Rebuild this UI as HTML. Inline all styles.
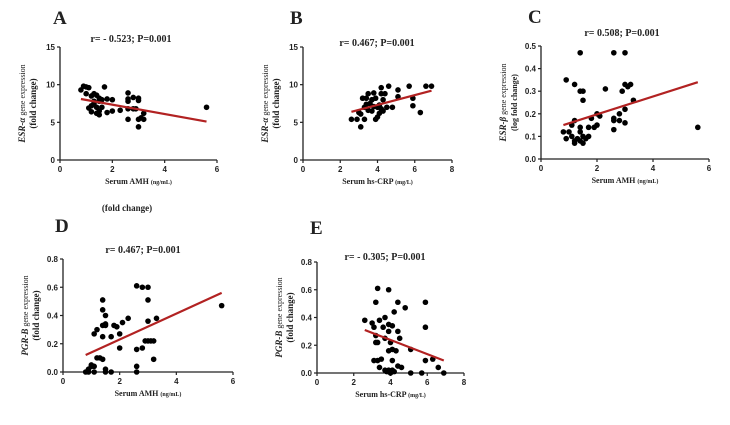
<!DOCTYPE html>
<html><head><meta charset="utf-8"><style>
html,body{margin:0;padding:0;background:#fff;width:730px;height:425px;overflow:hidden}
svg{display:block}
.t{font-family:"Liberation Serif",serif;font-weight:bold;fill:#222}
.tk{font-family:"Liberation Sans",sans-serif;font-weight:bold;font-size:8px;fill:#222}
</style></head><body>
<svg id="fig" width="730" height="425" viewBox="0 0 730 425"></svg>
<script>
const aX=[0.8,0.9,1.0,1.1,1.0,1.2,1.3,1.4,1.5,1.7,1.6,1.8,2.0,1.1,1.2,1.3,1.4,1.5,1.2,1.4,1.5,1.6,1.8,2.0,2.3,1.3,1.5,2.6,2.6,2.6,2.8,3.0,3.0,2.6,2.8,2.9,2.6,3.0,3.1,3.2,3.2,3.0,5.6];
const aY=[9.3,9.8,9.7,9.6,8.8,8.5,8.8,8.6,8.2,9.7,8.0,8.1,8.0,6.9,7.2,7.5,7.0,6.5,6.4,6.2,6.0,7.0,6.3,6.5,6.6,7.8,7.8,8.9,8.1,7.8,8.3,8.2,7.9,6.8,6.8,6.8,5.4,5.4,5.6,5.4,6.2,4.4,7.0];
const aLine=[[0.8,8.1],[5.6,5.1]];
const bX=[2.6,2.9,3.0,3.1,3.1,3.2,3.3,3.3,3.4,3.4,3.5,3.5,3.7,3.7,3.8,3.8,3.9,3.9,4.0,4.0,4.1,4.2,4.2,4.2,4.3,4.3,4.4,4.5,4.6,4.8,5.1,5.1,5.7,5.9,5.9,6.3,6.6,6.9,3.6,4.1];
const bY=[5.4,5.4,6.3,6.1,4.4,8.2,5.4,7.0,7.4,8.2,8.8,6.6,6.5,8.0,8.9,7.1,8.2,5.4,5.7,7.0,6.2,9.6,8.8,6.8,6.5,8.0,8.8,7.0,9.8,7.0,9.3,8.4,9.8,8.2,7.2,6.3,9.8,9.8,7.5,7.3];
const bLine=[[2.6,6.4],[6.9,9.2]];
const cX=[0.8,0.9,0.9,1.0,1.1,1.1,1.2,1.2,1.2,1.2,1.3,1.4,1.4,1.4,1.4,1.4,1.5,1.5,1.5,1.5,1.6,1.7,1.7,1.8,1.9,2.0,2.0,2.1,2.3,2.6,2.6,2.6,2.6,2.8,2.8,2.9,3.0,3.0,3.0,3.0,3.1,3.2,3.3,5.6];
const cY=[0.12,0.35,0.09,0.12,0.10,0.15,0.08,0.33,0.17,0.07,0.09,0.47,0.30,0.14,0.12,0.08,0.30,0.26,0.10,0.07,0.09,0.14,0.10,0.18,0.14,0.20,0.15,0.19,0.31,0.47,0.18,0.17,0.13,0.20,0.17,0.30,0.47,0.33,0.22,0.16,0.32,0.33,0.26,0.14];
const cLine=[[0.8,0.15],[5.6,0.34]];
const dX=[0.8,0.9,0.9,1.0,1.0,1.1,1.1,1.1,1.2,1.2,1.3,1.4,1.4,1.4,1.4,1.4,1.5,1.5,1.5,1.5,1.5,1.7,1.7,1.8,1.9,2.0,2.0,2.1,2.3,2.6,2.6,2.6,2.6,2.8,2.8,2.9,3.0,3.0,3.0,3.0,3.1,3.2,3.2,3.3,5.6];
const dY=[0,0,0.02,0.04,0.05,0.04,0,0.27,0.30,0.10,0.10,0.09,0.51,0.44,0.33,0.25,0.40,0.34,0.33,0.02,0,0.25,0,0.33,0.32,0.27,0.17,0.35,0.38,0.61,0.16,0.04,0,0.60,0.17,0.22,0.60,0.51,0.36,0.22,0.22,0.22,0.09,0.38,0.47];
const dLine=[[0.8,0.12],[5.6,0.56]];
const eX=[2.6,3.0,3.1,3.2,3.2,3.2,3.1,3.3,3.3,3.3,3.4,3.4,3.5,3.6,3.7,3.7,3.7,3.8,3.9,3.9,3.9,3.9,3.9,4.0,4.0,4.1,4.1,4.1,4.1,4.2,4.2,4.3,4.4,4.4,4.4,4.5,4.6,4.8,5.1,5.1,5.7,5.9,5.9,5.9,6.3,6.6,6.9];
const eY=[0.38,0.36,0.33,0.51,0.27,0.22,0.09,0.61,0.09,0.22,0.38,0.04,0.10,0.33,0.40,0.25,0.02,0.01,0.60,0.35,0.30,0.16,0.02,0.22,0,0.34,0.09,0.17,0.02,0.44,0.01,0.16,0.51,0.30,0.05,0.25,0.04,0.47,0.17,0,0,0.51,0.33,0.09,0.10,0.04,0];
const eLine=[[2.6,0.31],[6.9,0.09]];
const ticksA=["0","5","10","15"], ticksC=["0.0","0.1","0.2","0.3","0.4","0.5"], ticksD=["0.0","0.2","0.4","0.6","0.8"];
const xt6=["0","2","4","6"], xt8=["0","2","4","6","8"];

const NS="http://www.w3.org/2000/svg", svg=document.getElementById('fig');
function mk(tag,at,parent,txt){const e=document.createElementNS(NS,tag);for(const k in at)e.setAttribute(k,at[k]);if(txt!=null)e.textContent=txt;(parent||svg).appendChild(e);return e;}
function panel(p){
  const g=mk('g',{});
  
  
  const sx=v=>p.x0+(v-0)/(p.xmax)*(p.x1-p.x0);
  const sy=v=>p.y0-(v)/(p.ymax)*(p.y0-p.y1);
  const L=mk('text',{x:p.lx,y:p.ly,class:'t','font-size':19},g,p.id);
  
  const T=mk('text',{x:p.tx,y:p.ty,class:'t','font-size':10,'text-anchor':'middle'},g,p.title);
  
  const ax=mk('path',{d:`M${p.x0},${p.y1}V${p.y0}H${p.x1}`,stroke:'#222','stroke-width':1.3,fill:'none'},g);
  
  p.yt.forEach((s,i)=>{const v=p.ymax*i/(p.yt.length-1),y=sy(v);
    mk('line',{x1:p.x0-3,x2:p.x0,y1:y,y2:y,stroke:'#222','stroke-width':1.2},g);
    const t=mk('text',{x:p.x0-5,y:y+3,class:'tk','text-anchor':'end'},g,s);
    });
  p.xt.forEach((s,i)=>{const v=p.xmax*i/(p.xt.length-1),x=sx(v);
    mk('line',{x1:x,x2:x,y1:p.y0,y2:p.y0+3,stroke:'#222','stroke-width':1.2},g);
    const t=mk('text',{x:x,y:p.y0+12,class:'tk','text-anchor':'middle'},g,s);
    });
  const xl=mk('text',{x:(p.x0+p.x1)/2,y:p.y0+24,class:'t','font-size':8,'text-anchor':'middle'},g);
  xl.innerHTML=p.xlab+' <tspan font-size="6">'+p.unit+'</tspan>';
  
  const cy=(p.y0+p.y1)/2, yl=mk('text',{transform:`translate(${p.x0-35},${cy}) rotate(-90)`,class:'t','font-size':8,'text-anchor':'middle'},g);
  yl.innerHTML='<tspan font-style="italic" font-size="9">'+p.gene+'</tspan> <tspan font-weight="normal">gene expression</tspan>';
  
  const yl2=mk('text',{transform:`translate(${p.x0-24},${cy}) rotate(-90)`,class:'t','font-size':p.ysz||9,'text-anchor':'middle'},g,p.ylab2);
  
  p.xs.forEach((xv,i)=>{const c=mk('circle',{cx:sx(xv),cy:sy(p.ys[i]),r:2.8,fill:'#000'},g);
    });
  const ln=mk('line',{x1:sx(p.line[0][0]),y1:sy(p.line[0][1]),x2:sx(p.line[1][0]),y2:sy(p.line[1][1]),stroke:'#b22222','stroke-width':2.2},g);
  
}
panel({id:'A',x0:60,x1:217,y0:160,y1:47,xmax:6,ymax:15,yt:ticksA,xt:xt6,xs:aX,ys:aY,line:aLine,lx:53,ly:24,tx:131,ty:42,title:'r= - 0.523; P=0.001',xlab:'Serum AMH',unit:'(ng/mL)',gene:'ESR-α',ylab2:'(fold change)'});
panel({id:'B',x0:303,x1:452,y0:160,y1:47,xmax:8,ymax:15,yt:ticksA,xt:xt8,xs:bX,ys:bY,line:bLine,lx:290,ly:24,tx:377,ty:46,title:'r= 0.467; P=0.001',xlab:'Serum hs-CRP',unit:'(mg/L)',gene:'ESR-α',ylab2:'(fold change)'});
panel({id:'C',x0:541,x1:709,y0:159,y1:46,xmax:6,ymax:0.5,yt:ticksC,xt:xt6,xs:cX,ys:cY,line:cLine,lx:528,ly:23,tx:622,ty:36,title:'r= 0.508; P=0.001',xlab:'Serum AMH',unit:'(ng/mL)',gene:'ESR-β',ylab2:'(log fold change)',ysz:8});
panel({id:'D',x0:63,x1:233,y0:372,y1:259,xmax:6,ymax:0.8,yt:ticksD,xt:xt6,xs:dX,ys:dY,line:dLine,lx:55,ly:232,tx:143,ty:253,title:'r= 0.467; P=0.001',xlab:'Serum AMH',unit:'(ng/mL)',gene:'PGR-B',ylab2:'(fold change)'});
panel({id:'E',x0:317,x1:464,y0:373,y1:262,xmax:8,ymax:0.8,yt:ticksD,xt:xt8,xs:eX,ys:eY,line:eLine,lx:310,ly:234,tx:385,ty:260,title:'r= - 0.305;  P=0.001',xlab:'Serum hs-CRP',unit:'(mg/L)',gene:'PGR-B',ylab2:'(fold change)'});
const fc=mk('text',{x:127,y:211,class:'t','font-size':9,'text-anchor':'middle'},svg,'(fold change)');

</script>
</body></html>
